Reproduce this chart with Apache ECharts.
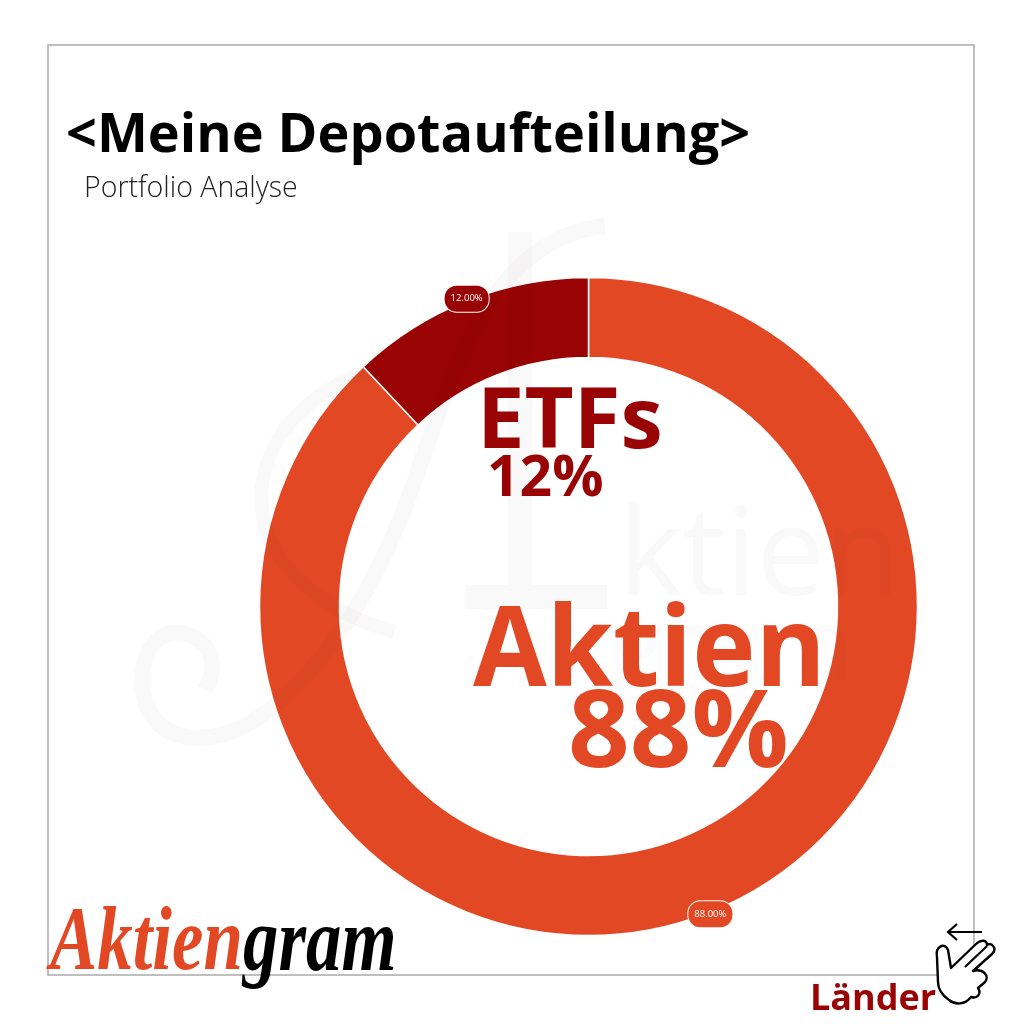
<!DOCTYPE html>
<html><head><meta charset="utf-8">
<style>html,body{margin:0;padding:0;background:#fff}#c{width:1024px;height:1024px}</style>
<script src="https://cdn.jsdelivr.net/npm/echarts@6/dist/echarts.min.js"></script>
</head><body><div id="c"></div>
<script>
const categories = ['Aktien', 'ETFs'];
const shares = [88, 12];
const bigLabels = ['88%', '12%'];
const sliceColors = ['#E34825', '#990303'];
const sans = '"Open Sans","Noto Sans",sans-serif';

const outerR = 329, innerR = 249, labelR = 328;
let acc = 0;
const total = shares.reduce((a, b) => a + b, 0);
const pieData = categories.map((name, i) => {
  const mid = (acc + shares[i] / 2) / total * 2 * Math.PI;
  acc += shares[i];
  const d = labelR - (outerR + innerR) / 2;
  return {
    name, value: shares[i],
    itemStyle: { color: sliceColors[i] },
    label: {
      backgroundColor: sliceColors[i],
      offset: [d * Math.sin(mid), -d * Math.cos(mid)]
    }
  };
});

const wm = 'rgba(60,40,30,0.028)';
function stroke(d, w) {
  return { type: 'path', shape: { pathData: d },
    style: { fill: 'none', stroke: wm, lineWidth: w } };
}
function decor(children, z) {
  return { type: 'custom', coordinateSystem: 'none', silent: true, z, data: [0],
    renderItem: () => ({ type: 'group', children }) };
}
function txt(text, x, y, font, fill, extra) {
  const e = Object.assign({ type: 'text', z: 20, silent: true,
    style: { text, x, y, font, fill, align: 'left', verticalAlign: 'middle' } }, extra || {});
  if (e.scaleX) { e.originX = x; e.originY = y; }
  return e;
}
const chart = echarts.init(document.getElementById('c'), null, { renderer: 'canvas' });
chart.setOption({
  animation: false,
  backgroundColor: '#ffffff',
  series: [{
    type: 'pie', z: 2,
    center: [588.5, 606.5],
    radius: [innerR, outerR],
    startAngle: 90,
    clockwise: true,
    silent: true,
    itemStyle: { borderColor: '#ffffff', borderWidth: 1.5 },
    label: {
      show: true, position: 'inside',
      formatter: p => p.value.toFixed(2) + '%',
      color: '#fff', fontSize: 9.5, fontFamily: sans,
      borderColor: '#fff', borderWidth: 1, borderRadius: 12,
      padding: [8, 6, 8, 6]
    },
    labelLine: { show: false },
    data: pieData
  },
  decor([
    stroke('M 205 690 C 228 650 190 625 165 635 C 130 650 130 735 195 738 C 270 740 350 640 400 520 C 450 390 480 240 605 226', 16),
    stroke('M 380 368 C 300 390 255 450 262 510 C 270 570 330 615 395 632', 14),
    stroke('M 520 232 L 520 590 M 466 597 L 607 597', 24)
  ], 5),
  decor([
    { type: 'path', shape: { pathData: 'M 982 932 L 948 932 M 957 924 L 948 932 L 957 940' },
      style: { fill: 'none', stroke: '#000', lineWidth: 2.2 } },
    { type: 'path',
      shape: { pathData: 'M 937 957 C 935 946 945 942 948 950 L 951 968 L 976 944 C 981 939 987 940 987 945 C 991 942 998 948 992 954 L 973 971 C 983 968 990 976 985 982 L 978 988 C 982 994 977 999 971 997 C 965 1005 955 1005 949 1000 C 942 995 938 988 938 982 Z' },
      style: { fill: '#fff', stroke: '#000', lineWidth: 2.4, lineJoin: 'round' } },
    { type: 'path', shape: { pathData: 'M 965 967 L 987 946 M 973 971 L 979 966' },
      style: { fill: 'none', stroke: '#000', lineWidth: 2.2 } }
  ], 30)],
  graphic: { elements: [
    { type: 'rect', z: 0, silent: true, shape: { x: 48, y: 45, width: 926, height: 930 },
      style: { fill: '#fff', stroke: '#aaaaaa', lineWidth: 1.5 } },

    txt('ktien', 618, 560, '400 122px ' + sans, wm, { z: 5 }),
    txt('gram', 610, 652, '400 100px ' + sans, 'rgba(60,40,30,0.018)', { z: 5 }),

    // header
    txt('<Meine Depotaufteilung>', 66, 137, '700 54px ' + sans, '#000000'),
    txt('Portfolio Analyse', 84, 189, '300 28.5px ' + sans, '#222222'),

    // big centre labels
    txt(categories[1], 477, 424, '700 85px ' + sans, sliceColors[1]),
    txt(bigLabels[1], 487, 480, '700 57px ' + sans, sliceColors[1]),
    txt(categories[0], 473, 654, '700 112px ' + sans, sliceColors[0], { scaleX: 0.955 }),
    txt(bigLabels[0], 568, 736, '700 108px ' + sans, sliceColors[0]),

    // logo
    txt(categories[0], 50, 945, 'italic 700 92px "Liberation Serif"', sliceColors[0], { scaleX: 0.77 }),
    txt('gram', 243, 946, 'italic 700 92px "Liberation Serif"', '#000000', { scaleX: 0.77 }),

    txt('Länder', 810, 1000, '700 36px ' + sans, sliceColors[1])
  ] }
});
</script></body></html>
